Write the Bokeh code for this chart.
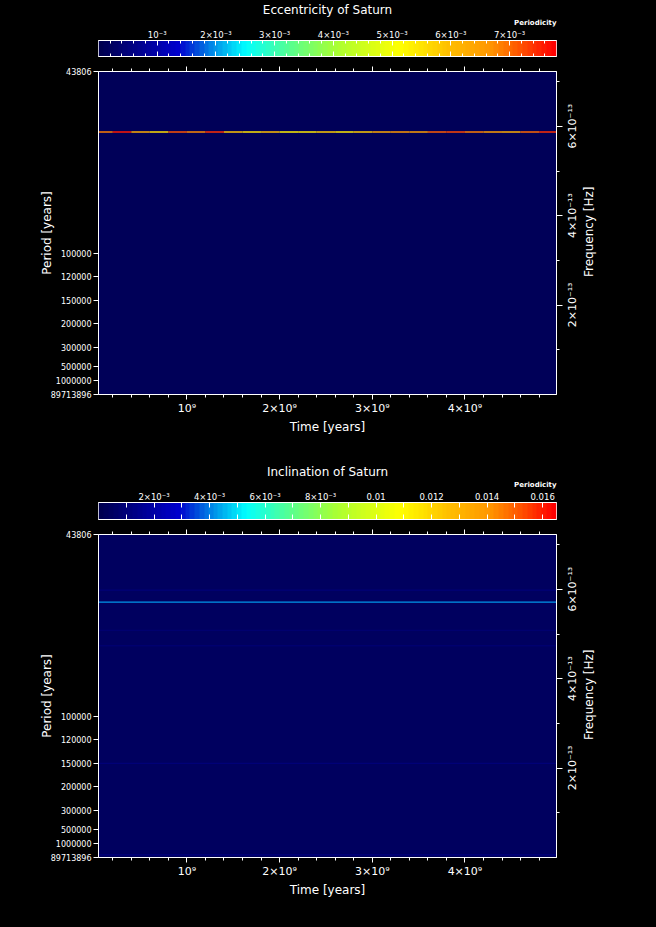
import math
import numpy as np
from bokeh.plotting import figure
from bokeh.models import (LinearAxis, FixedTicker, CustomJSTickFormatter, LinearColorMapper,
                          Title, ColumnDataSource, Range1d)
from bokeh.layouts import column
from bokeh.transform import linear_cmap
from bokeh.embed import file_html
from bokeh.resources import INLINE

# ---------------- data ----------------
SECONDS_PER_YEAR = 3.15576e7

time_span = [0.0, 5.0e9]            # extent of the spectrogram in time (years)
time_view = [0.046e9, 4.988e9]      # visible time window
time_tick_values = [1e9, 2e9, 3e9, 4e9]
time_tick_labels = ["10⁹", "2×10⁹", "3×10⁹", "4×10⁹"]
time_minor_ticks = [0.2e9, 0.4e9, 0.6e9, 0.8e9, 1.2e9, 1.4e9, 1.6e9, 1.8e9, 2.2e9, 2.4e9, 2.6e9,
                    2.8e9, 3.2e9, 3.4e9, 3.6e9, 3.8e9, 4.2e9, 4.4e9, 4.6e9, 4.8e9]

period_top = 43806
period_bottom = 89713896
period_tick_values = [43806, 100000, 120000, 150000, 200000, 300000, 500000, 1000000, 89713896]
period_tick_labels = ["43806", "100000", "120000", "150000", "200000", "300000", "500000",
                      "1000000", "89713896"]

freq_tick_values = [2e-13, 4e-13, 6e-13]
freq_tick_labels = ["2×10⁻¹³", "4×10⁻¹³", "6×10⁻¹³"]
freq_minor_ticks = [1e-13, 3e-13, 5e-13, 7e-13]
freq_axis_title = "Frequency [Hz]"

# Eccentricity panel
ecc_title = "Eccentricity of Saturn"
ecc_scale_max = 7.8e-3
ecc_cb_ticks = [0.001, 0.002, 0.003, 0.004, 0.005, 0.006, 0.007]
ecc_cb_labels = ["10⁻³", "2×10⁻³", "3×10⁻³", "4×10⁻³", "5×10⁻³", "6×10⁻³", "7×10⁻³"]
ecc_cb_minor = [0.0002, 0.0004, 0.0006, 0.0008, 0.0012, 0.0014, 0.0016, 0.0018, 0.0022, 0.0024,
                0.0026, 0.0028, 0.0032, 0.0034, 0.0036, 0.0038, 0.0042, 0.0044, 0.0046, 0.0048,
                0.0052, 0.0054, 0.0056, 0.0058, 0.0062, 0.0064, 0.0066, 0.0068, 0.0072, 0.0074,
                0.0076]
ecc_background = 0.0001
ecc_line_period = 53900
ecc_line_times = [0.1e9, 0.3e9, 0.5e9, 0.7e9, 0.9e9, 1.1e9, 1.3e9, 1.5e9, 1.7e9, 1.9e9, 2.1e9,
                  2.3e9, 2.5e9, 2.7e9, 2.9e9, 3.1e9, 3.3e9, 3.5e9, 3.7e9, 3.9e9, 4.1e9, 4.3e9,
                  4.5e9, 4.7e9, 4.9e9]
ecc_line_values = [6.9e-3, 7.6e-3, 6.3e-3, 5.6e-3, 7.2e-3, 6.8e-3, 7.4e-3, 5.9e-3, 5.5e-3,
                   6.0e-3, 5.3e-3, 5.4e-3, 5.8e-3, 5.4e-3, 5.8e-3, 6.4e-3, 6.6e-3, 6.5e-3,
                   7.1e-3, 7.3e-3, 6.9e-3, 6.5e-3, 6.3e-3, 7.0e-3, 7.4e-3]

# Inclination panel
inc_title = "Inclination of Saturn"
inc_scale_max = 0.0165
inc_cb_ticks = [0.002, 0.004, 0.006, 0.008, 0.010, 0.012, 0.014, 0.016]
inc_cb_labels = ["2×10⁻³", "4×10⁻³", "6×10⁻³", "8×10⁻³", "0.01", "0.012", "0.014", "0.016"]
inc_cb_minor = [0.001, 0.003, 0.005, 0.007, 0.009, 0.011, 0.013, 0.015]
inc_background = 0.0004
inc_line_periods = [55400, 52900, 62300, 66800, 150000, 5000000]
inc_line_values = [0.0042, 0.0009, 0.0008, 0.0008, 0.0009, 0.0011]

# ---------------- style ----------------
anchor_pos = [0.0, 0.17, 0.24, 0.32, 0.42, 0.52, 0.66, 0.76, 0.86, 0.92, 1.0]
anchor_rgb = [(0, 0, 80), (0, 0, 205), (0, 130, 230), (0, 255, 255), (90, 255, 140),
              (170, 255, 50), (255, 255, 0), (255, 195, 0), (255, 150, 0), (255, 90, 0),
              (255, 0, 0)]
N_COLORS = 96
_xs = np.linspace(0, 1, N_COLORS)
palette = ["#%02x%02x%02x" % tuple(int(round(np.interp(x, anchor_pos, [c[k] for c in anchor_rgb])))
                                   for k in range(3)) for x in _xs]

FONT = "DejaVu Sans"
WIDTH = 656
BORDER_L = 98
BORDER_R = 100
FRAME_H = 323
BAR_H = 17
RIGHT_LABEL_HALF_PX = 22     # half the length of a rotated right-hand tick label
RIGHT_TITLE_HALF_PX = 44     # half the length of the rotated right-hand axis title

LABEL_JS = """
for (let i = 0; i < t.length; i++) {
  if (Math.abs(t[i] - tick) <= 1e-6 * Math.abs(t[i])) return l[i];
}
return "";
"""


def fmt(ticks, labels):
    return CustomJSTickFormatter(args=dict(t=list(ticks), l=list(labels)), code=LABEL_JS)


def style_axis(ax, font_size="8px"):
    ax.axis_line_color = "white"
    ax.major_tick_line_color = "white"
    ax.minor_tick_line_color = "white"
    ax.major_label_text_color = "white"
    ax.major_label_text_font = FONT
    ax.major_label_text_font_size = font_size
    ax.axis_label_text_color = "white"
    ax.axis_label_text_font = FONT
    ax.axis_label_text_font_size = "12px"
    ax.axis_label_text_font_style = "normal"


def base_fig(height, top_border, bottom_border, x_range, y_range):
    return figure(width=WIDTH, height=height, x_range=x_range, y_range=y_range,
                  x_axis_type=None, y_axis_type=None, title_location=None,
                  output_backend="svg", toolbar_location=None,
                  min_border_left=BORDER_L, min_border_right=BORDER_R,
                  min_border_top=top_border, min_border_bottom=bottom_border,
                  background_fill_color="black", border_fill_color="black",
                  outline_line_color="white", outline_line_width=1)


def colorbar_fig(title, vmax, ticks, labels, minor, top_border, minor_len):
    bottom_border = 6
    p = base_fig(top_border + BAR_H + bottom_border, top_border, bottom_border,
                 Range1d(0, vmax), Range1d(0, 1))
    mapper = LinearColorMapper(palette=palette, low=0, high=vmax)
    p.image(image=[np.linspace(0, vmax, 460).reshape(1, -1)], x=0, y=0, dw=vmax, dh=1,
            color_mapper=mapper)
    ticker = FixedTicker(ticks=ticks, minor_ticks=minor)
    ax = LinearAxis(ticker=ticker, formatter=fmt(ticks, labels))
    style_axis(ax, "8.5px")
    ax.major_tick_in = 5
    ax.major_tick_out = 0
    ax.minor_tick_in = minor_len
    ax.minor_tick_out = 0
    ax.major_label_standoff = 1
    p.add_layout(ax, "above")
    ax2 = LinearAxis(ticker=ticker, formatter=fmt(ticks, [""] * len(ticks)))
    style_axis(ax2, "0px")
    ax2.major_tick_in = 5
    ax2.major_tick_out = 0
    ax2.minor_tick_in = minor_len
    ax2.minor_tick_out = 0
    ax2.major_label_standoff = 0
    p.add_layout(ax2, "below")
    p.add_layout(Title(text="Periodicity", align="right", text_color="white", text_font=FONT,
                       text_font_size="7px", text_font_style="bold", standoff=0, offset=0),
                 "above")
    p.add_layout(Title(text=title, align="center", text_color="white", text_font=FONT,
                       text_font_size="12px", text_font_style="normal", standoff=0, offset=0),
                 "above")
    return p


def rotated_label_axis(positions, labels, font_size, standoff):
    ax = LinearAxis(ticker=FixedTicker(ticks=positions, minor_ticks=[]),
                    formatter=fmt(positions, labels))
    style_axis(ax, font_size)
    ax.axis_line_color = None
    ax.major_tick_line_color = None
    ax.minor_tick_line_color = None
    ax.major_tick_in = 0
    ax.major_tick_out = 0
    ax.minor_tick_out = 0
    ax.major_label_orientation = math.pi / 2
    ax.major_label_standoff = standoff
    return ax


def main_fig(top_border, bottom_border, vmax, bg_value, seg_x0, seg_x1, seg_period, seg_value):
    fmin = 1.0 / (period_bottom * SECONDS_PER_YEAR)
    fmax = 1.0 / (period_top * SECONDS_PER_YEAR)
    p = base_fig(top_border + FRAME_H + bottom_border, top_border, bottom_border,
                 Range1d(*time_view), Range1d(fmin, fmax))
    cmap = linear_cmap("value", palette, 0, vmax)
    bg = ColumnDataSource(dict(left=[time_span[0]], right=[time_span[1]], bottom=[fmin],
                               top=[fmax], value=[bg_value]))
    p.quad(left="left", right="right", bottom="bottom", top="top", source=bg,
           fill_color=cmap, line_color=None)
    freqs = [1.0 / (per * SECONDS_PER_YEAR) for per in seg_period]
    segs = ColumnDataSource(dict(x0=seg_x0, x1=seg_x1, y=freqs, value=seg_value))
    p.segment(x0="x0", y0="y", x1="x1", y1="y", source=segs, line_color=cmap, line_width=1.3)

    # time axes
    tticker = FixedTicker(ticks=time_tick_values, minor_ticks=time_minor_ticks)
    bx = LinearAxis(ticker=tticker, formatter=fmt(time_tick_values, time_tick_labels),
                    axis_label="Time [years]")
    style_axis(bx, "11px")
    bx.major_tick_out = 5
    bx.major_tick_in = 0
    bx.minor_tick_out = 3
    bx.minor_tick_in = 0
    bx.major_label_standoff = 2
    bx.axis_label_standoff = 2
    p.add_layout(bx, "below")

    tx = LinearAxis(ticker=tticker, formatter=fmt(time_tick_values, [""] * len(time_tick_values)))
    style_axis(tx, "0px")
    tx.major_tick_out = 5
    tx.major_tick_in = 0
    tx.minor_tick_out = 3
    tx.minor_tick_in = 0
    tx.major_label_standoff = 0
    p.add_layout(tx, "above")

    # period axis (left)
    pfreqs = [1.0 / (per * SECONDS_PER_YEAR) for per in period_tick_values]
    ly = LinearAxis(ticker=FixedTicker(ticks=pfreqs, minor_ticks=[]),
                    formatter=fmt(pfreqs, period_tick_labels), axis_label="Period [years]")
    style_axis(ly)
    ly.major_tick_out = 5
    ly.major_tick_in = 0
    ly.major_label_standoff = 2
    ly.axis_label_standoff = -6
    p.add_layout(ly, "left")

    # frequency axis (right): ticks, rotated labels, rotated title
    fticker = FixedTicker(ticks=freq_tick_values, minor_ticks=freq_minor_ticks)
    ry = LinearAxis(ticker=fticker, formatter=fmt(freq_tick_values, [""] * len(freq_tick_values)))
    style_axis(ry, "0px")
    ry.major_tick_out = 6
    ry.major_tick_in = 0
    ry.minor_tick_out = 3
    ry.minor_tick_in = 0
    ry.major_label_standoff = 0
    p.add_layout(ry, "right")

    data_per_px = (fmax - fmin) / FRAME_H
    label_pos = [v - RIGHT_LABEL_HALF_PX * data_per_px for v in freq_tick_values]
    p.add_layout(rotated_label_axis(label_pos, freq_tick_labels, "11px", 10), "right")

    title_pos = [0.5 * (fmin + fmax) - RIGHT_TITLE_HALF_PX * data_per_px]
    p.add_layout(rotated_label_axis(title_pos, [freq_axis_title], "12px", 0), "right")
    return p


# Eccentricity segments (one per time bin)
ecc_x0 = [t - 0.1e9 for t in ecc_line_times]
ecc_x1 = [t + 0.1e9 for t in ecc_line_times]
ecc_periods = [ecc_line_period for _ in ecc_line_times]

# Inclination segments (each line spans the whole time axis)
inc_x0 = [time_span[0] for _ in inc_line_periods]
inc_x1 = [time_span[1] for _ in inc_line_periods]

fig_a = colorbar_fig(ecc_title, ecc_scale_max, ecc_cb_ticks, ecc_cb_labels, ecc_cb_minor, 39, 3)
fig_b = main_fig(9, 68, ecc_scale_max, ecc_background, ecc_x0, ecc_x1, ecc_periods,
                 ecc_line_values)
fig_c = colorbar_fig(inc_title, inc_scale_max, inc_cb_ticks, inc_cb_labels, inc_cb_minor, 40, 5)
fig_d = main_fig(9, 70, inc_scale_max, inc_background, inc_x0, inc_x1, inc_line_periods,
                 inc_line_values)

layout = column(fig_a, fig_b, fig_c, fig_d, spacing=0)
html = file_html(layout, INLINE, title="Saturn periodicity")
html = html.replace("</head>",
                    "<style>html, body { background-color: #000000 !important; }</style></head>", 1)
open("out.html", "w").write(html)
